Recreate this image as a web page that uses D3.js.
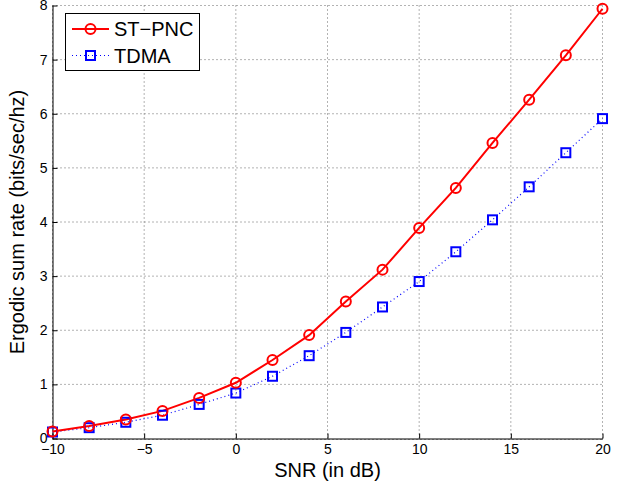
<!DOCTYPE html>
<html>
<head>
<meta charset="utf-8">
<script src="https://cdn.jsdelivr.net/npm/d3@7"></script>
<style>
  body { margin: 0; background: #fff; }
  svg { display: block; font-family: "Liberation Sans", Arial, sans-serif; }
</style>
</head>
<body>
<svg id="chart" width="633" height="484"></svg>
<script>
// data
const snr = [-10, -8, -6, -4, -2, 0, 2, 4, 6, 8, 10, 12, 14, 16, 18, 20];
const stpnc = [0.13, 0.23, 0.35, 0.51, 0.75, 1.03, 1.45, 1.91, 2.53, 3.12, 3.89, 4.63, 5.46, 6.26, 7.08, 7.94];
const tdma = [0.12, 0.2, 0.3, 0.43, 0.63, 0.84, 1.15, 1.53, 1.96, 2.43, 2.9, 3.45, 4.04, 4.65, 5.28, 5.91];
const xTicks = [-10, -5, 0, 5, 10, 15, 20];
const yTicks = [0, 1, 2, 3, 4, 5, 6, 7, 8];
const seriesNames = ["ST\u2212PNC", "TDMA"];

const svg = d3.select("#chart");
const mLeft = 52.5, mRight = 602.5, mTop = 5.5, mBottom = 438.5;

const x = d3.scaleLinear().domain([-10, 20]).range([mLeft, mRight]);
const y = d3.scaleLinear().domain([0, 8]).range([mBottom, mTop]);

// grid
const grid = svg.append("g")
  .attr("stroke", "#666")
  .attr("stroke-width", 1)
  .attr("stroke-dasharray", "1,3");
grid.selectAll("line.gx")
  .data(xTicks)
  .join("line")
  .attr("class", "gx")
  .attr("x1", d => x(d)).attr("x2", d => x(d))
  .attr("y1", mBottom).attr("y2", mTop);
grid.selectAll("line.gy")
  .data(yTicks)
  .join("line")
  .attr("class", "gy")
  .attr("x1", mLeft).attr("x2", mRight)
  .attr("y1", d => y(d) + (d === 0 ? 1 : 0)).attr("y2", d => y(d) + (d === 0 ? 1 : 0));

// axes
const fmt = d => (d < 0 ? "\u2212" + Math.abs(d) : String(d));

const xAxis = svg.append("g")
  .attr("transform", `translate(0,${mBottom})`)
  .call(d3.axisBottom(x).tickValues(xTicks).tickFormat(fmt).tickSizeInner(-5).tickSizeOuter(0).tickPadding(6));
const yAxis = svg.append("g")
  .attr("transform", `translate(${mLeft},0)`)
  .call(d3.axisLeft(y).tickValues(yTicks).tickFormat(fmt).tickSizeInner(-5).tickSizeOuter(0).tickPadding(5));

[xAxis, yAxis].forEach(a => {
  a.attr("font-family", "Liberation Sans, Arial, sans-serif").attr("font-size", 14);
  a.selectAll("path, line").attr("stroke", "#000").attr("stroke-width", 1);
  a.selectAll("text").attr("fill", "#000");
});

// axis labels
svg.append("text")
  .attr("x", (mLeft + mRight) / 2)
  .attr("y", 477)
  .attr("text-anchor", "middle")
  .attr("font-size", 20)
  .text("SNR (in dB)");

svg.append("text")
  .attr("transform", `translate(23.5,${(mTop + mBottom) / 2}) rotate(-90)`)
  .attr("text-anchor", "middle")
  .attr("font-size", 20)
  .text("Ergodic sum rate (bits/sec/hz)");

// lines
const line = d3.line().x((d, i) => x(snr[i])).y(d => y(d));

svg.append("path")
  .datum(tdma)
  .attr("fill", "none")
  .attr("stroke", "#0000ff")
  .attr("stroke-width", 1.2)
  .attr("stroke-dasharray", "1,3")
  .attr("d", line);

svg.append("path")
  .datum(stpnc)
  .attr("fill", "none")
  .attr("stroke", "#ff0000")
  .attr("stroke-width", 2)
  .attr("d", line);

svg.selectAll("rect.sq")
  .data(tdma)
  .join("rect")
  .attr("class", "sq")
  .attr("x", (d, i) => x(snr[i]) - 4.5)
  .attr("y", d => y(d) - 4.5)
  .attr("width", 9)
  .attr("height", 9)
  .attr("fill", "none")
  .attr("stroke", "#0000ff")
  .attr("stroke-width", 2);

svg.selectAll("circle.pt")
  .data(stpnc)
  .join("circle")
  .attr("class", "pt")
  .attr("cx", (d, i) => x(snr[i]))
  .attr("cy", d => y(d))
  .attr("r", 5)
  .attr("fill", "none")
  .attr("stroke", "#ff0000")
  .attr("stroke-width", 2);

// legend
const lg = svg.append("g");
lg.append("rect")
  .attr("x", 65.5).attr("y", 13.5)
  .attr("width", 134).attr("height", 57)
  .attr("fill", "#fff").attr("stroke", "#000").attr("stroke-width", 1);

const rows = [
  { name: seriesNames[0], color: "#ff0000", dash: null, w: 2, mark: "circle" },
  { name: seriesNames[1], color: "#0000ff", dash: "1,3", w: 1.2, mark: "square" }
];
rows.forEach((r, i) => {
  const cy = 29 + i * 26.5;
  lg.append("line")
    .attr("x1", 72).attr("x2", 109)
    .attr("y1", cy).attr("y2", cy)
    .attr("stroke", r.color).attr("stroke-width", r.w)
    .attr("stroke-dasharray", r.dash);
  if (r.mark === "circle") {
    lg.append("circle").attr("cx", 90.5).attr("cy", cy).attr("r", 5)
      .attr("fill", "none").attr("stroke", r.color).attr("stroke-width", 2);
  } else {
    lg.append("rect").attr("x", 86).attr("y", cy - 4.5).attr("width", 9).attr("height", 9)
      .attr("fill", "none").attr("stroke", r.color).attr("stroke-width", 2);
  }
  lg.append("text")
    .attr("x", 114).attr("y", cy + 7)
    .attr("font-size", 20)
    .text(r.name);
});
</script>
</body>
</html>
